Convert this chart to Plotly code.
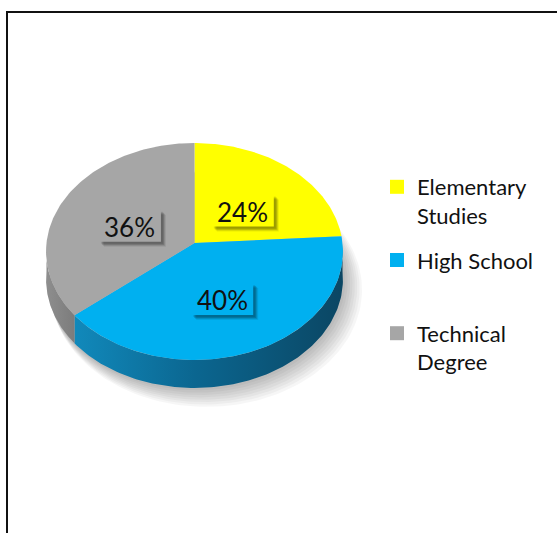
import math
import plotly.graph_objects as go

# ---- data ----
categories = ["Elementary Studies", "High School", "Technical Degree"]
shares = [24, 40, 36]
legend_names = ["Elementary<br>Studies", "High School<br>\u00a0", "Technical<br>Degree"]

# ---- style ----
top_colors = ["#FFFF00", "#00B0F0", "#A6A6A6"]
side_scales = [
    [[0, "#d9d900"], [1, "#a6a600"]],
    [[0, "#1189bb"], [0.45, "#0b6690"], [1, "#0b4663"]],
    [[0, "#8e8e8e"], [1, "#7c7c7c"]],
]
FONT = "Lato"
W, H = 557, 533

# pie geometry (pixel space of the plotting area)
CX, CY = 194.5, 243.0
A, B = 148.0, 107.8
K = 0.078          # perspective strength
DEPTH = 28.0
BOX_W, BOX_H = 62, 32


def proj(phi, r=1.0):
    """Project a point of the tilted disc (phi clockwise from 12 o'clock)."""
    u = r * math.sin(phi)
    v = -r * math.cos(phi)
    s = 1.0 / (1.0 - K * v)
    return CX + A * u * s, CY + B * v * s


def arc(a0, a1, n=120, r=1.0, dy=0.0):
    pts = []
    for i in range(n + 1):
        t = a0 + (a1 - a0) * i / n
        x, y = proj(t, r)
        pts.append((x, y + dy))
    return pts


fig = go.Figure()

# soft shadow below the disc
for i in range(8, 0, -1):
    pts = arc(0, 2 * math.pi, 200)
    xs = [CX + (x - CX) * (1 + 0.006 * i) + 1.5 * i for x, _ in pts]
    ys = [CY + DEPTH + (y - CY) * (1 + 0.01 * i) + 1.2 * i for _, y in pts]
    fig.add_trace(go.Scatter(x=xs, y=ys, mode="lines", fill="toself",
                             line=dict(width=0), fillcolor="rgba(0,0,0,0.035)",
                             hoverinfo="skip", showlegend=False))

total = sum(shares)
bounds = []
acc = 0.0
for v in shares:
    a0 = 2 * math.pi * acc / total
    acc += v
    a1 = 2 * math.pi * acc / total
    bounds.append((a0, a1))

# side walls (front half only)
for (a0, a1), scale in zip(bounds, side_scales):
    s0, s1 = max(a0, math.pi / 2), min(a1, 3 * math.pi / 2)
    if s1 <= s0:
        continue
    top = arc(s0, s1)
    bot = arc(s1, s0, dy=DEPTH)
    pts = top + bot
    fig.add_trace(go.Scatter(
        x=[p[0] for p in pts], y=[p[1] for p in pts], mode="lines",
        fill="toself", line=dict(width=0),
        fillgradient=dict(type="horizontal", colorscale=scale),
        hoverinfo="skip", showlegend=False))

# top faces
for (a0, a1), col, cat in zip(bounds, top_colors, categories):
    pts = [(CX, CY)] + arc(a0, a1) + [(CX, CY)]
    fig.add_trace(go.Scatter(
        x=[p[0] for p in pts], y=[p[1] for p in pts], mode="lines",
        fill="toself", line=dict(width=0), fillcolor=col,
        name=cat, hoverinfo="name", showlegend=False))

# legend entries
for name, col, cat in zip(legend_names, top_colors, categories):
    fig.add_trace(go.Scatter(
        x=[None], y=[None], mode="markers", name=name, legendgroup=cat,
        marker=dict(symbol="square", size=14, color=col, line=dict(width=0))))

# percentage labels in boxes with soft drop shadows
annotations = []
shapes = []
for (a0, a1), v, col in zip(bounds, shares, top_colors):
    mid = (a0 + a1) / 2
    lx, ly = proj(mid, 0.49)
    ly += 5
    for off, alpha in ((5, 0.08), (4, 0.12), (3, 0.16), (2, 0.10)):
        shapes.append(dict(
            type="rect", xref="x", yref="y", layer="above",
            x0=lx - BOX_W / 2 + off, x1=lx + BOX_W / 2 + off,
            y0=ly - BOX_H / 2 + off, y1=ly + BOX_H / 2 + off,
            line=dict(width=0), fillcolor=f"rgba(0,0,0,{alpha})"))
    shapes.append(dict(
        type="rect", xref="x", yref="y", layer="above",
        x0=lx - BOX_W / 2, x1=lx + BOX_W / 2,
        y0=ly - BOX_H / 2, y1=ly + BOX_H / 2,
        line=dict(width=0), fillcolor=col))
    annotations.append(dict(
        x=lx, y=ly + 1, xref="x", yref="y", text=f"{v}%", showarrow=False,
        font=dict(family=FONT, size=26, color="#111111")))

# outer frame
shapes.append(dict(type="rect", xref="paper", yref="paper",
                   x0=7 / W, x1=1.05, y0=-0.05, y1=1 - 12 / H,
                   line=dict(color="#111111", width=2)))

fig.update_layout(
    width=W, height=H,
    margin=dict(l=0, r=0, t=0, b=0),
    paper_bgcolor="white", plot_bgcolor="white",
    xaxis=dict(range=[0, W], visible=False, fixedrange=True),
    yaxis=dict(range=[H, 0], visible=False, fixedrange=True),
    showlegend=True,
    legend=dict(x=377 / W, y=1 - 166 / H, xanchor="left", yanchor="top",
                valign="top", tracegroupgap=13, traceorder="grouped",
                font=dict(family=FONT, size=22, color="#111111"),
                bgcolor="rgba(0,0,0,0)", itemclick=False, itemdoubleclick=False),
    annotations=annotations,
    shapes=shapes,
)

fig.write_html("out.html")
